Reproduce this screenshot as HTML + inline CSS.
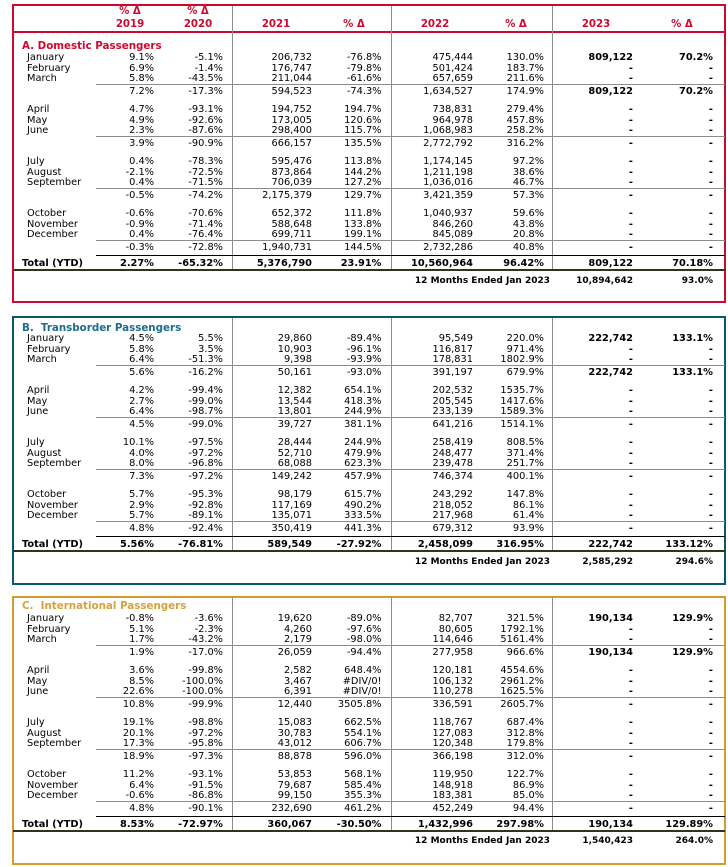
<!DOCTYPE html>
<html><head><meta charset="utf-8">
<style>
html,body{margin:0;padding:0}
body{width:728px;height:867px;position:relative;background:#fff;font-family:"DejaVu Sans",Verdana,"Liberation Sans",sans-serif;font-size:9.8px;color:#000;overflow:hidden}
.box{position:absolute;left:12px;width:714px;box-sizing:border-box;border:2px solid}
.r{position:absolute;left:0;width:728px;height:11px;line-height:11px;white-space:nowrap}
.r span{position:absolute;top:0}
.l{left:27px}
.a{right:574px}.b{right:505px}.c{right:416px}.d{right:346.5px}.e{right:255px}.f{right:184px}.g{right:95px}.h{right:15px}
.k{font-weight:bold}
.t{font-weight:bold}
.ttl{font-weight:bold;font-size:10.3px}
.hd{position:absolute;font-weight:bold;font-size:10.2px;color:#cc0a2f;text-align:center;width:60px;line-height:12px;white-space:nowrap}
.v{position:absolute;width:1px;background:#8c8c8c}
.gl{position:absolute;left:96px;width:629px;height:1px;background:#8c8c8c}
.bl{position:absolute;left:96px;width:629px;height:1px;background:#000}
.dl{position:absolute;left:13px;width:712px;height:2px;background:#34331a}
.m{font-size:9px;font-weight:bold}
</style></head><body>

<!-- ================= SECTION A ================= -->
<div class="box" style="top:4px;height:299px;border-color:#cc0a2f"></div>
<div style="position:absolute;left:13px;top:31px;width:712px;height:2px;background:#cc0a2f"></div>
<div class="v" style="left:232px;top:6px;height:263px"></div>
<div class="v" style="left:391px;top:6px;height:263px"></div>
<div class="v" style="left:552px;top:6px;height:263px"></div>

<div class="hd" style="left:100px;top:6px">% Δ</div>
<div class="hd" style="left:100px;top:19px">2019</div>
<div class="hd" style="left:168px;top:6px">% Δ</div>
<div class="hd" style="left:168px;top:19px">2020</div>
<div class="hd" style="left:246px;top:19px">2021</div>
<div class="hd" style="left:324px;top:19px">% Δ</div>
<div class="hd" style="left:405px;top:19px">2022</div>
<div class="hd" style="left:486px;top:19px">% Δ</div>
<div class="hd" style="left:566px;top:19px">2023</div>
<div class="hd" style="left:652px;top:19px">% Δ</div>

<div class="r" style="top:39.5px;height:12px;line-height:12px"><span class="ttl" style="left:22px;color:#cc0a2f">A. Domestic Passengers</span></div>

<div class="r" style="top:51.8px"><span class="l">January</span><span class="a">9.1%</span><span class="b">-5.1%</span><span class="c">206,732</span><span class="d">-76.8%</span><span class="e">475,444</span><span class="f">130.0%</span><span class="g k">809,122</span><span class="h k">70.2%</span></div>
<div class="r" style="top:62.5px"><span class="l">February</span><span class="a">6.9%</span><span class="b">-1.4%</span><span class="c">176,747</span><span class="d">-79.8%</span><span class="e">501,424</span><span class="f">183.7%</span><span class="g k">-</span><span class="h k">-</span></div>
<div class="r" style="top:73.2px"><span class="l">March</span><span class="a">5.8%</span><span class="b">-43.5%</span><span class="c">211,044</span><span class="d">-61.6%</span><span class="e">657,659</span><span class="f">211.6%</span><span class="g k">-</span><span class="h k">-</span></div>
<div class="gl" style="top:84px"></div>
<div class="r" style="top:85.5px"><span class="a">7.2%</span><span class="b">-17.3%</span><span class="c">594,523</span><span class="d">-74.3%</span><span class="e">1,634,527</span><span class="f">174.9%</span><span class="g k">809,122</span><span class="h k">70.2%</span></div>

<div class="r" style="top:103.8px"><span class="l">April</span><span class="a">4.7%</span><span class="b">-93.1%</span><span class="c">194,752</span><span class="d">194.7%</span><span class="e">738,831</span><span class="f">279.4%</span><span class="g k">-</span><span class="h k">-</span></div>
<div class="r" style="top:114.5px"><span class="l">May</span><span class="a">4.9%</span><span class="b">-92.6%</span><span class="c">173,005</span><span class="d">120.6%</span><span class="e">964,978</span><span class="f">457.8%</span><span class="g k">-</span><span class="h k">-</span></div>
<div class="r" style="top:125.2px"><span class="l">June</span><span class="a">2.3%</span><span class="b">-87.6%</span><span class="c">298,400</span><span class="d">115.7%</span><span class="e">1,068,983</span><span class="f">258.2%</span><span class="g k">-</span><span class="h k">-</span></div>
<div class="gl" style="top:136px"></div>
<div class="r" style="top:137.5px"><span class="a">3.9%</span><span class="b">-90.9%</span><span class="c">666,157</span><span class="d">135.5%</span><span class="e">2,772,792</span><span class="f">316.2%</span><span class="g k">-</span><span class="h k">-</span></div>

<div class="r" style="top:155.8px"><span class="l">July</span><span class="a">0.4%</span><span class="b">-78.3%</span><span class="c">595,476</span><span class="d">113.8%</span><span class="e">1,174,145</span><span class="f">97.2%</span><span class="g k">-</span><span class="h k">-</span></div>
<div class="r" style="top:166.5px"><span class="l">August</span><span class="a">-2.1%</span><span class="b">-72.5%</span><span class="c">873,864</span><span class="d">144.2%</span><span class="e">1,211,198</span><span class="f">38.6%</span><span class="g k">-</span><span class="h k">-</span></div>
<div class="r" style="top:177.2px"><span class="l">September</span><span class="a">0.4%</span><span class="b">-71.5%</span><span class="c">706,039</span><span class="d">127.2%</span><span class="e">1,036,016</span><span class="f">46.7%</span><span class="g k">-</span><span class="h k">-</span></div>
<div class="gl" style="top:188px"></div>
<div class="r" style="top:189.5px"><span class="a">-0.5%</span><span class="b">-74.2%</span><span class="c">2,175,379</span><span class="d">129.7%</span><span class="e">3,421,359</span><span class="f">57.3%</span><span class="g k">-</span><span class="h k">-</span></div>

<div class="r" style="top:207.8px"><span class="l">October</span><span class="a">-0.6%</span><span class="b">-70.6%</span><span class="c">652,372</span><span class="d">111.8%</span><span class="e">1,040,937</span><span class="f">59.6%</span><span class="g k">-</span><span class="h k">-</span></div>
<div class="r" style="top:218.5px"><span class="l">November</span><span class="a">-0.9%</span><span class="b">-71.4%</span><span class="c">588,648</span><span class="d">133.8%</span><span class="e">846,260</span><span class="f">43.8%</span><span class="g k">-</span><span class="h k">-</span></div>
<div class="r" style="top:229.2px"><span class="l">December</span><span class="a">0.4%</span><span class="b">-76.4%</span><span class="c">699,711</span><span class="d">199.1%</span><span class="e">845,089</span><span class="f">20.8%</span><span class="g k">-</span><span class="h k">-</span></div>
<div class="gl" style="top:240px"></div>
<div class="r" style="top:241.5px"><span class="a">-0.3%</span><span class="b">-72.8%</span><span class="c">1,940,731</span><span class="d">144.5%</span><span class="e">2,732,286</span><span class="f">40.8%</span><span class="g k">-</span><span class="h k">-</span></div>
<div class="bl" style="top:255px"></div>
<div class="r t" style="top:257.5px"><span style="left:22px">Total (YTD)</span><span class="a">2.27%</span><span class="b">-65.32%</span><span class="c">5,376,790</span><span class="d">23.91%</span><span class="e">10,560,964</span><span class="f">96.42%</span><span class="g">809,122</span><span class="h">70.18%</span></div>
<div class="dl" style="top:269px"></div>
<div class="r m" style="top:275.5px"><span style="right:178px">12 Months Ended Jan 2023</span><span class="g">10,894,642</span><span class="h">93.0%</span></div>

<!-- ================= SECTION B ================= -->
<div class="box" style="top:316px;height:269px;border-color:#0b5670"></div>
<div class="v" style="left:232px;top:318px;height:232px"></div>
<div class="v" style="left:391px;top:318px;height:232px"></div>
<div class="v" style="left:552px;top:318px;height:232px"></div>

<div class="r" style="top:322px;height:12px;line-height:12px"><span class="ttl" style="left:22px;color:#1b6d8f">B.&nbsp; Transborder Passengers</span></div>

<div class="r" style="top:332.8px"><span class="l">January</span><span class="a">4.5%</span><span class="b">5.5%</span><span class="c">29,860</span><span class="d">-89.4%</span><span class="e">95,549</span><span class="f">220.0%</span><span class="g k">222,742</span><span class="h k">133.1%</span></div>
<div class="r" style="top:343.5px"><span class="l">February</span><span class="a">5.8%</span><span class="b">3.5%</span><span class="c">10,903</span><span class="d">-96.1%</span><span class="e">116,817</span><span class="f">971.4%</span><span class="g k">-</span><span class="h k">-</span></div>
<div class="r" style="top:354.2px"><span class="l">March</span><span class="a">6.4%</span><span class="b">-51.3%</span><span class="c">9,398</span><span class="d">-93.9%</span><span class="e">178,831</span><span class="f">1802.9%</span><span class="g k">-</span><span class="h k">-</span></div>
<div class="gl" style="top:365px"></div>
<div class="r" style="top:366.5px"><span class="a">5.6%</span><span class="b">-16.2%</span><span class="c">50,161</span><span class="d">-93.0%</span><span class="e">391,197</span><span class="f">679.9%</span><span class="g k">222,742</span><span class="h k">133.1%</span></div>

<div class="r" style="top:384.8px"><span class="l">April</span><span class="a">4.2%</span><span class="b">-99.4%</span><span class="c">12,382</span><span class="d">654.1%</span><span class="e">202,532</span><span class="f">1535.7%</span><span class="g k">-</span><span class="h k">-</span></div>
<div class="r" style="top:395.5px"><span class="l">May</span><span class="a">2.7%</span><span class="b">-99.0%</span><span class="c">13,544</span><span class="d">418.3%</span><span class="e">205,545</span><span class="f">1417.6%</span><span class="g k">-</span><span class="h k">-</span></div>
<div class="r" style="top:406.2px"><span class="l">June</span><span class="a">6.4%</span><span class="b">-98.7%</span><span class="c">13,801</span><span class="d">244.9%</span><span class="e">233,139</span><span class="f">1589.3%</span><span class="g k">-</span><span class="h k">-</span></div>
<div class="gl" style="top:417px"></div>
<div class="r" style="top:418.5px"><span class="a">4.5%</span><span class="b">-99.0%</span><span class="c">39,727</span><span class="d">381.1%</span><span class="e">641,216</span><span class="f">1514.1%</span><span class="g k">-</span><span class="h k">-</span></div>

<div class="r" style="top:436.8px"><span class="l">July</span><span class="a">10.1%</span><span class="b">-97.5%</span><span class="c">28,444</span><span class="d">244.9%</span><span class="e">258,419</span><span class="f">808.5%</span><span class="g k">-</span><span class="h k">-</span></div>
<div class="r" style="top:447.5px"><span class="l">August</span><span class="a">4.0%</span><span class="b">-97.2%</span><span class="c">52,710</span><span class="d">479.9%</span><span class="e">248,477</span><span class="f">371.4%</span><span class="g k">-</span><span class="h k">-</span></div>
<div class="r" style="top:458.2px"><span class="l">September</span><span class="a">8.0%</span><span class="b">-96.8%</span><span class="c">68,088</span><span class="d">623.3%</span><span class="e">239,478</span><span class="f">251.7%</span><span class="g k">-</span><span class="h k">-</span></div>
<div class="gl" style="top:469px"></div>
<div class="r" style="top:470.5px"><span class="a">7.3%</span><span class="b">-97.2%</span><span class="c">149,242</span><span class="d">457.9%</span><span class="e">746,374</span><span class="f">400.1%</span><span class="g k">-</span><span class="h k">-</span></div>

<div class="r" style="top:488.8px"><span class="l">October</span><span class="a">5.7%</span><span class="b">-95.3%</span><span class="c">98,179</span><span class="d">615.7%</span><span class="e">243,292</span><span class="f">147.8%</span><span class="g k">-</span><span class="h k">-</span></div>
<div class="r" style="top:499.5px"><span class="l">November</span><span class="a">2.9%</span><span class="b">-92.8%</span><span class="c">117,169</span><span class="d">490.2%</span><span class="e">218,052</span><span class="f">86.1%</span><span class="g k">-</span><span class="h k">-</span></div>
<div class="r" style="top:510.2px"><span class="l">December</span><span class="a">5.7%</span><span class="b">-89.1%</span><span class="c">135,071</span><span class="d">333.5%</span><span class="e">217,968</span><span class="f">61.4%</span><span class="g k">-</span><span class="h k">-</span></div>
<div class="gl" style="top:521px"></div>
<div class="r" style="top:522.5px"><span class="a">4.8%</span><span class="b">-92.4%</span><span class="c">350,419</span><span class="d">441.3%</span><span class="e">679,312</span><span class="f">93.9%</span><span class="g k">-</span><span class="h k">-</span></div>
<div class="bl" style="top:536px"></div>
<div class="r t" style="top:538.5px"><span style="left:22px">Total (YTD)</span><span class="a">5.56%</span><span class="b">-76.81%</span><span class="c">589,549</span><span class="d">-27.92%</span><span class="e">2,458,099</span><span class="f">316.95%</span><span class="g">222,742</span><span class="h">133.12%</span></div>
<div class="dl" style="top:550px"></div>
<div class="r m" style="top:556.5px"><span style="right:178px">12 Months Ended Jan 2023</span><span class="g">2,585,292</span><span class="h">294.6%</span></div>

<!-- ================= SECTION C ================= -->
<div class="box" style="top:596px;height:269px;border-color:#d39b2c"></div>
<div class="v" style="left:232px;top:598px;height:232px"></div>
<div class="v" style="left:391px;top:598px;height:232px"></div>
<div class="v" style="left:552px;top:598px;height:232px"></div>

<div class="r" style="top:600px;height:12px;line-height:12px"><span class="ttl" style="left:22px;color:#d6a23c">C.&nbsp; International Passengers</span></div>

<div class="r" style="top:612.8px"><span class="l">January</span><span class="a">-0.8%</span><span class="b">-3.6%</span><span class="c">19,620</span><span class="d">-89.0%</span><span class="e">82,707</span><span class="f">321.5%</span><span class="g k">190,134</span><span class="h k">129.9%</span></div>
<div class="r" style="top:623.5px"><span class="l">February</span><span class="a">5.1%</span><span class="b">-2.3%</span><span class="c">4,260</span><span class="d">-97.6%</span><span class="e">80,605</span><span class="f">1792.1%</span><span class="g k">-</span><span class="h k">-</span></div>
<div class="r" style="top:634.2px"><span class="l">March</span><span class="a">1.7%</span><span class="b">-43.2%</span><span class="c">2,179</span><span class="d">-98.0%</span><span class="e">114,646</span><span class="f">5161.4%</span><span class="g k">-</span><span class="h k">-</span></div>
<div class="gl" style="top:645px"></div>
<div class="r" style="top:646.5px"><span class="a">1.9%</span><span class="b">-17.0%</span><span class="c">26,059</span><span class="d">-94.4%</span><span class="e">277,958</span><span class="f">966.6%</span><span class="g k">190,134</span><span class="h k">129.9%</span></div>

<div class="r" style="top:664.8px"><span class="l">April</span><span class="a">3.6%</span><span class="b">-99.8%</span><span class="c">2,582</span><span class="d">648.4%</span><span class="e">120,181</span><span class="f">4554.6%</span><span class="g k">-</span><span class="h k">-</span></div>
<div class="r" style="top:675.5px"><span class="l">May</span><span class="a">8.5%</span><span class="b">-100.0%</span><span class="c">3,467</span><span class="d">#DIV/0!</span><span class="e">106,132</span><span class="f">2961.2%</span><span class="g k">-</span><span class="h k">-</span></div>
<div class="r" style="top:686.2px"><span class="l">June</span><span class="a">22.6%</span><span class="b">-100.0%</span><span class="c">6,391</span><span class="d">#DIV/0!</span><span class="e">110,278</span><span class="f">1625.5%</span><span class="g k">-</span><span class="h k">-</span></div>
<div class="gl" style="top:697px"></div>
<div class="r" style="top:698.5px"><span class="a">10.8%</span><span class="b">-99.9%</span><span class="c">12,440</span><span class="d">3505.8%</span><span class="e">336,591</span><span class="f">2605.7%</span><span class="g k">-</span><span class="h k">-</span></div>

<div class="r" style="top:716.8px"><span class="l">July</span><span class="a">19.1%</span><span class="b">-98.8%</span><span class="c">15,083</span><span class="d">662.5%</span><span class="e">118,767</span><span class="f">687.4%</span><span class="g k">-</span><span class="h k">-</span></div>
<div class="r" style="top:727.5px"><span class="l">August</span><span class="a">20.1%</span><span class="b">-97.2%</span><span class="c">30,783</span><span class="d">554.1%</span><span class="e">127,083</span><span class="f">312.8%</span><span class="g k">-</span><span class="h k">-</span></div>
<div class="r" style="top:738.2px"><span class="l">September</span><span class="a">17.3%</span><span class="b">-95.8%</span><span class="c">43,012</span><span class="d">606.7%</span><span class="e">120,348</span><span class="f">179.8%</span><span class="g k">-</span><span class="h k">-</span></div>
<div class="gl" style="top:749px"></div>
<div class="r" style="top:750.5px"><span class="a">18.9%</span><span class="b">-97.3%</span><span class="c">88,878</span><span class="d">596.0%</span><span class="e">366,198</span><span class="f">312.0%</span><span class="g k">-</span><span class="h k">-</span></div>

<div class="r" style="top:768.8px"><span class="l">October</span><span class="a">11.2%</span><span class="b">-93.1%</span><span class="c">53,853</span><span class="d">568.1%</span><span class="e">119,950</span><span class="f">122.7%</span><span class="g k">-</span><span class="h k">-</span></div>
<div class="r" style="top:779.5px"><span class="l">November</span><span class="a">6.4%</span><span class="b">-91.5%</span><span class="c">79,687</span><span class="d">585.4%</span><span class="e">148,918</span><span class="f">86.9%</span><span class="g k">-</span><span class="h k">-</span></div>
<div class="r" style="top:790.2px"><span class="l">December</span><span class="a">-0.6%</span><span class="b">-86.8%</span><span class="c">99,150</span><span class="d">355.3%</span><span class="e">183,381</span><span class="f">85.0%</span><span class="g k">-</span><span class="h k">-</span></div>
<div class="gl" style="top:801px"></div>
<div class="r" style="top:802.5px"><span class="a">4.8%</span><span class="b">-90.1%</span><span class="c">232,690</span><span class="d">461.2%</span><span class="e">452,249</span><span class="f">94.4%</span><span class="g k">-</span><span class="h k">-</span></div>
<div class="bl" style="top:816px"></div>
<div class="r t" style="top:819px"><span style="left:22px">Total (YTD)</span><span class="a">8.53%</span><span class="b">-72.97%</span><span class="c">360,067</span><span class="d">-30.50%</span><span class="e">1,432,996</span><span class="f">297.98%</span><span class="g">190,134</span><span class="h">129.89%</span></div>
<div class="dl" style="top:830px"></div>
<div class="r m" style="top:835.5px"><span style="right:178px">12 Months Ended Jan 2023</span><span class="g">1,540,423</span><span class="h">264.0%</span></div>

</body></html>
